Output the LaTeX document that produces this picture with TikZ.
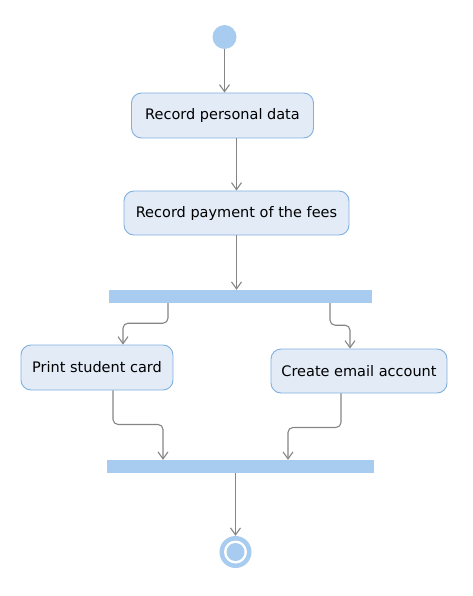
\documentclass[tikz,border=0pt]{standalone}
\usepackage{fontspec}
\setmainfont{DejaVu Sans}
\usepackage{tikz}
\usetikzlibrary{
    arrows.meta,
    positioning,
    calc
}
\tikzset{
  act/.style     = {draw=actLine, fill=actFill, rounded corners=10pt, line width=0.9pt,
                    inner sep=0pt, align=center, font=\fontsize{14.5}{16}\selectfont},
  bar/.style     = {fill=barBlue, inner sep=0pt, minimum height=13pt},
  arr/.style     = {-{Straight Barb[length=7pt,width=10pt,line width=1.1pt]}, line width=1.1pt,
                    flowGray, rounded corners=5pt}
}
\definecolor{actFill}{RGB}{226,235,246}
\definecolor{actLine}{RGB}{128,176,224}
\definecolor{barBlue}{RGB}{168,204,240}
\definecolor{flowGray}{RGB}{133,133,133}

\begin{document}
\begin{tikzpicture}[x=1pt, y=-1pt]
    \useasboundingbox (0,0) rectangle (472,596);

    % Start node
    \node[circle, fill=barBlue, minimum size=24pt, inner sep=0pt] (start) at (224.5,37) {};

    % Activities
    \node[act, minimum width=182pt, minimum height=45pt] (recData) at (222.5,115.5) {Record personal data};
    \node[act, minimum width=225pt, minimum height=44pt] (recPay) at (236.5,213) {Record payment of the fees};

    % Fork bar
    \node[bar, minimum width=263pt] (fork) at (240.5,296.5) {};

    \node[act, minimum width=152pt, minimum height=45pt] (printCard) at (97,367.5) {Print student card};
    \node[act, minimum width=176pt, minimum height=44pt] (mailAcc) at (359,371) {Create email account};

    % Join bar
    \node[bar, minimum width=267pt] (join) at (240.5,466.5) {};

    % Final node
    \node[circle, fill=barBlue, minimum size=32pt, inner sep=0pt] (stop) at (235.5,552) {};
    \fill[white] (stop) circle (11.5pt);
    \fill[barBlue] (stop) circle (9pt);

    % Flows
    \draw[arr] (start.south) -- (start.south |- recData.north);
    \draw[arr] (recData.south -| recPay) -- (recPay.north);
    \draw[arr] (recPay.south) -- (recPay.south |- fork.north);
    \draw[arr] ([xshift=-72.5pt]fork.south) -- ++(0,20) -| ([xshift=26pt]printCard.north);
    \draw[arr] ([xshift=89.5pt]fork.south) -- ++(0,22) -| ([xshift=-9pt]mailAcc.north);
    \draw[arr] ([xshift=16pt]printCard.south) -- ++(0,34) -| ([xshift=-77.5pt]join.north);
    \draw[arr] ([xshift=-18pt]mailAcc.south) -- ++(0,34) -| ([xshift=47.5pt]join.north);
    \draw[arr] (join.south -| stop) -- (stop.north);
  \end{tikzpicture}
\end{document}
